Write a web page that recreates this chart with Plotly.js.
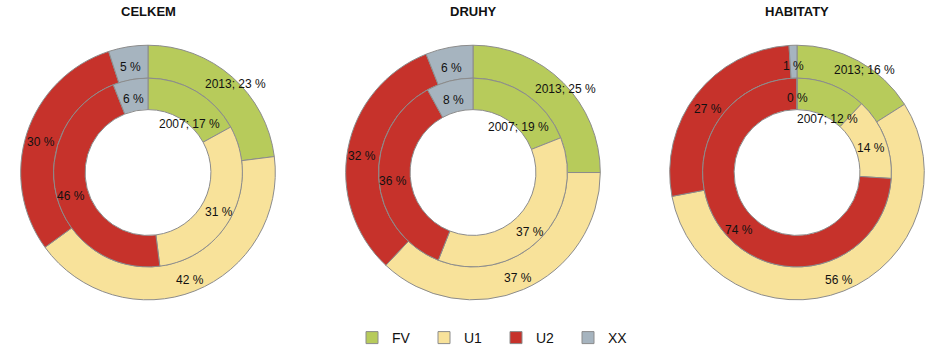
<!DOCTYPE html>
<html><head><meta charset="utf-8">
<script src="https://cdn.plot.ly/plotly-3.0.1.min.js"></script>
<style>html,body{margin:0;padding:0;background:#fff}#chart{width:946px;height:354px}</style>
</head><body><div id="chart"></div>
<script>
// ---- data ----
const categories = ['FV', 'U1', 'U2', 'XX'];
const chartTitles = ['CELKEM', 'DRUHY', 'HABITATY'];
const yearOuter = '2013';
const yearInner = '2007';
const celkem2013 = [23, 42, 30, 5];
const celkem2007 = [17, 31, 46, 6];
const druhy2013 = [25, 37, 32, 6];
const druhy2007 = [19, 37, 36, 8];
const habitaty2013 = [16, 56, 27, 1];
const habitaty2007 = [12, 14, 74, 0];

// ---- style / layout ----
const colors = ['#b7cb5b', '#f8e29a', '#c6322b', '#a6b4bf'];
const W = 946, H = 354;
const centersX = [148, 473, 797];
const centerY = 175.5;
const rOuter = 129.5, rMid = 96, rInner = 64;
const labelFont = {family: 'Liberation Sans, Arial, sans-serif', size: 12, color: '#111'};
const yearShift = {outer: [13, -9], inner: [1, 16]};
const labelDy = 4;

const outerData = [celkem2013, druhy2013, habitaty2013];
const innerData = [celkem2007, druhy2007, habitaty2007];

const traces = [];
const annotations = [];

function dom(cx, cy, r) {
  return {x: [(cx - r) / W, (cx + r) / W], y: [1 - (cy + r) / H, 1 - (cy - r) / H]};
}

function addLabels(values, cx, cy, r0, r1, year, shift) {
  const total = values.reduce((a, b) => a + b, 0);
  let cum = 0;
  const rm = (r0 + r1) / 2;
  values.forEach((v, k) => {
    const ang = (cum + v / 2) / total * 2 * Math.PI;
    cum += v;
    let px = cx + rm * Math.sin(ang);
    let py = cy - rm * Math.cos(ang) + labelDy;
    let txt = v + ' %';
    if (k === 0) { txt = year + '; ' + txt; px += shift[0]; py += shift[1]; }
    annotations.push({
      x: px / W, y: 1 - py / H, xref: 'paper', yref: 'paper',
      xanchor: 'center', yanchor: 'middle', showarrow: false,
      text: txt, font: labelFont
    });
  });
}

chartTitles.forEach((t, i) => {
  const cx = centersX[i];
  traces.push({
    type: 'pie', labels: categories, values: outerData[i],
    domain: dom(cx, centerY, rOuter), hole: rMid / rOuter,
    sort: false, direction: 'clockwise', rotation: 0,
    marker: {colors: colors, line: {color: '#8c8c8c', width: 1}},
    textinfo: 'none', hoverinfo: 'skip', showlegend: i === 0, name: yearOuter
  });
  traces.push({
    type: 'pie', labels: categories, values: innerData[i],
    domain: dom(cx, centerY, rMid), hole: rInner / rMid,
    sort: false, direction: 'clockwise', rotation: 0,
    marker: {colors: colors, line: {color: '#8c8c8c', width: 1}},
    textinfo: 'none', hoverinfo: 'skip', showlegend: false, name: yearInner
  });
  addLabels(outerData[i], cx, centerY, rMid, rOuter, yearOuter, yearShift.outer);
  addLabels(innerData[i], cx, centerY, rInner, rMid, yearInner, yearShift.inner);
  annotations.push({
    x: cx / W, y: 1 - 12 / H, xref: 'paper', yref: 'paper',
    xanchor: 'center', yanchor: 'middle', showarrow: false,
    text: '<b>' + t + '</b>',
    font: {family: 'Liberation Sans, Arial, sans-serif', size: 13, color: '#111'}
  });
});

const layout = {
  width: W, height: H,
  margin: {l: 0, r: 0, t: 0, b: 0},
  paper_bgcolor: '#fff',
  showlegend: true,
  legend: {
    orientation: 'h', x: 352 / W, xanchor: 'left', y: 1 - 344 / H, yanchor: 'middle',
    entrywidth: 27, entrywidthmode: 'pixels', traceorder: 'normal',
    font: {family: 'Liberation Sans, Arial, sans-serif', size: 14, color: '#111'},
    bgcolor: 'rgba(0,0,0,0)'
  },
  annotations: annotations
};

Plotly.newPlot('chart', traces, layout, {displayModeBar: false, staticPlot: true});
</script>
</body></html>
